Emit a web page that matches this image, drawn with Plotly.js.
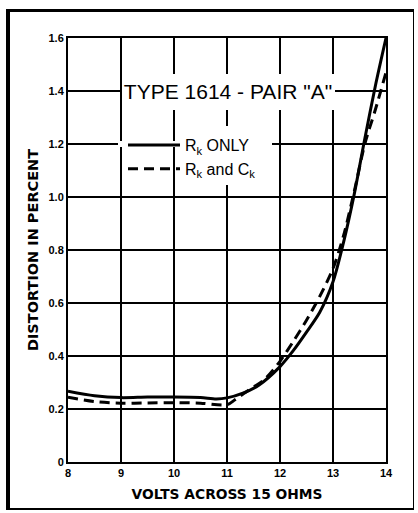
<!DOCTYPE html>
<html>
<head>
<meta charset="utf-8">
<script src="https://cdn.plot.ly/plotly-3.0.1.min.js"></script>
<style>
  html, body { margin: 0; padding: 0; background: #ffffff; }
  #wrap { position: relative; width: 418px; height: 513px; }
  #chart { position: absolute; left: 0; top: 0; width: 418px; height: 513px; }
  #frame {
    position: absolute; left: 6px; top: 9px; width: 403px; height: 496px;
    border-left: 4px solid #000; border-top: 3px solid #000;
    border-right: 1.5px solid #000; border-bottom: 2.5px solid #000;
    pointer-events: none; box-sizing: content-box;
  }
</style>
</head>
<body>
<div id="wrap">
  <div id="chart"></div>
  <div id="frame"></div>
</div>
<script>
// ---- Data ----
const chartTitle = 'TYPE 1614 - PAIR "A"';
const xAxisTitle = 'VOLTS ACROSS 15 OHMS';
const yAxisTitle = 'DISTORTION IN PERCENT';

const seriesNames = ['R<sub>k</sub> ONLY', 'R<sub>k</sub> and C<sub>k</sub>'];

// Rk only (solid)
const rkOnlyVolts = [8, 8.5, 9, 9.5, 10, 10.5, 10.8, 11, 11.3, 11.6, 12, 12.25, 12.5, 12.75, 13, 13.2, 13.4, 13.6, 13.8, 14];
const rkOnlyDist  = [0.267, 0.25, 0.243, 0.245, 0.245, 0.243, 0.238, 0.242, 0.26, 0.29, 0.36, 0.42, 0.49, 0.565, 0.68, 0.83, 1.01, 1.22, 1.42, 1.6];

// Rk and Ck (dashed)
const rkCkVolts = [8, 8.5, 9, 9.5, 10, 10.5, 11, 11.15, 11.4, 11.7, 12, 12.25, 12.5, 12.75, 13, 13.2, 13.4, 13.6, 13.8, 14];
const rkCkDist  = [0.244, 0.228, 0.222, 0.223, 0.224, 0.222, 0.216, 0.235, 0.27, 0.31, 0.38, 0.455, 0.535, 0.625, 0.73, 0.855, 1.02, 1.2, 1.33, 1.47];

const xTickVals = [8, 9, 10, 11, 12, 13, 14];
const xTickText = ['8', '9', '10', '11', '12', '13', '14'];
const yTickVals = [0, 0.2, 0.4, 0.6, 0.8, 1.0, 1.2, 1.4, 1.6];
const yTickText = ['0', '0.2', '0.4', '0.6', '0.8', '1.0', '1.2', '1.4', '1.6'];

// ---- Layout geometry (pixels); plot area 318 x 424 so grid lines land on whole pixels ----
const W = 418, H = 513;
const M = { l: 68, r: 32, t: 38, b: 51 };
const plotW = W - M.l - M.r, plotH = H - M.t - M.b;
const px = v => (v - M.l) / plotW;          // pixel x -> paper x
const py = v => (H - M.b - v) / plotH;      // pixel y -> paper y

const FONT = 'Liberation Sans, Arial, sans-serif';
const BOLD = 'DejaVu Sans, Liberation Sans, sans-serif';

const traces = [
  {
    x: rkOnlyVolts, y: rkOnlyDist, name: seriesNames[0],
    type: 'scatter', mode: 'lines',
    line: { color: '#000000', width: 3, shape: 'spline', smoothing: 0.8 },
    hoverinfo: 'skip'
  },
  {
    x: rkCkVolts, y: rkCkDist, name: seriesNames[1],
    type: 'scatter', mode: 'lines',
    line: { color: '#000000', width: 3, dash: '10px,6px', shape: 'spline', smoothing: 0.8 },
    hoverinfo: 'skip'
  }
];

const whiteBox = (x0, y0, x1, y1) => ({
  type: 'rect', xref: 'paper', yref: 'paper',
  x0: px(x0), x1: px(x1), y0: py(y1), y1: py(y0),
  fillcolor: '#ffffff', line: { width: 0 }, layer: 'above'
});

const layout = {
  width: W, height: H,
  margin: { l: M.l, r: M.r, t: M.t, b: M.b, pad: 0 },
  paper_bgcolor: '#ffffff', plot_bgcolor: '#ffffff',
  title: {
    text: chartTitle,
    font: { family: FONT, size: 21, color: '#000000' },
    xref: 'paper', yref: 'paper',
    x: px(228), y: py(92), xanchor: 'center', yanchor: 'middle'
  },
  xaxis: {
    range: [8, 14], tickvals: xTickVals, ticktext: xTickText,
    showgrid: true, gridcolor: '#000000', gridwidth: 1.5,
    showline: true, linecolor: '#000000', linewidth: 2, mirror: true,
    zeroline: false, ticks: '', fixedrange: true,
    tickfont: { family: FONT, size: 11, weight: 'bold', color: '#000000' },
    title: { text: xAxisTitle, standoff: 11, font: { family: BOLD, size: 13.8, weight: 'bold', color: '#000000' } }
  },
  yaxis: {
    range: [0, 1.6], tickvals: yTickVals, ticktext: yTickText,
    showgrid: true, gridcolor: '#000000', gridwidth: 1.5,
    showline: true, linecolor: '#000000', linewidth: 2, mirror: true,
    zeroline: false, ticks: '', fixedrange: true,
    tickfont: { family: FONT, size: 11, weight: 'bold', color: '#000000' },
    title: { text: yAxisTitle, standoff: 6, font: { family: BOLD, size: 14.5, weight: 'bold', color: '#000000' } }
  },
  showlegend: true,
  legend: {
    x: px(123), y: py(128), xanchor: 'left', yanchor: 'top',
    bgcolor: 'rgba(0,0,0,0)', borderwidth: 0,
    font: { family: FONT, size: 16, color: '#000000' },
    itemwidth: 52, tracegroupgap: 0
  },
  shapes: [
    whiteBox(122, 74, 335, 110),   // behind the title
    whiteBox(181, 126, 272, 185),  // behind legend labels
    whiteBox(118, 141, 181, 147)   // gap in the 1.2 grid line
  ]
};

Plotly.newPlot('chart', traces, layout, { displayModeBar: false, staticPlot: true });
</script>
</body>
</html>
